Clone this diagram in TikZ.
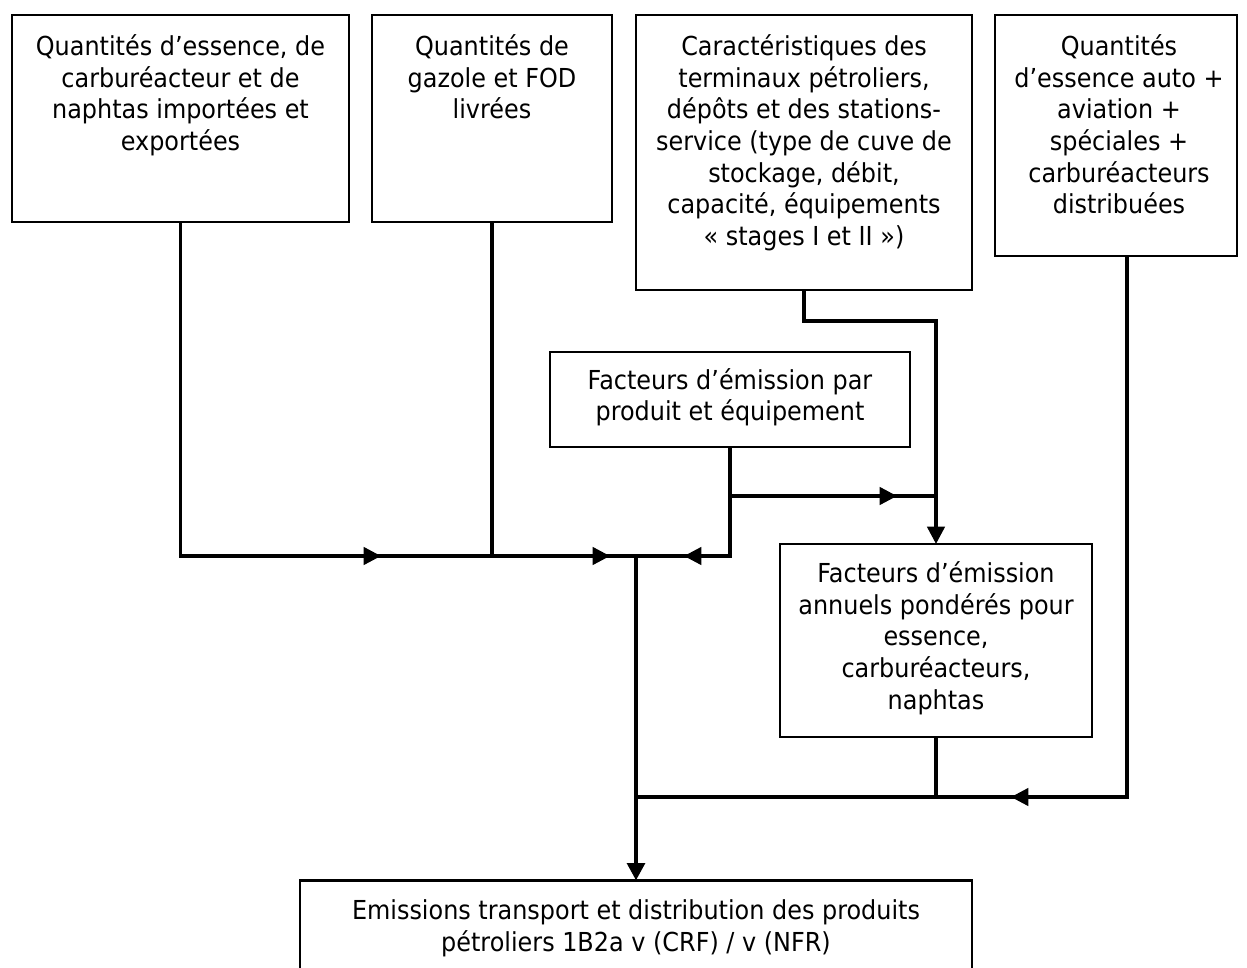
\documentclass[tikz,border=0pt]{standalone}
\usepackage{fontspec}
\setmainfont{DejaVu Sans}[FakeStretch=0.915]
\usetikzlibrary{arrows.meta}
% strut that fixes the height of the first line of each label
\newcommand\firstline{\rule{0pt}{16pt}}
\begin{document}
\begin{tikzpicture}[x=0.75pt,y=-0.75pt,
  box/.style={draw, line width=1.6pt, anchor=north west, inner sep=0pt, outer sep=0pt},
  boxsize/.style 2 args={minimum width=#1*0.75pt, minimum height=#2*0.75pt},
  txt/.style={align=center, inner sep=0pt, anchor=north,
              font=\fontsize{19.6pt}{23.7pt}\selectfont},
  conn/.style={line width=2.5pt},
  trunk/.style={line width=3.2pt},
  tip/.style={-{Triangle[length=13pt,width=13pt]}}]
\useasboundingbox (0,0) rectangle (1247,968);
\fill[white] (0,0) rectangle (1247,968);

% input boxes
\node[box, boxsize={337}{207}] (b1) at (12,15) {};
\node[box, boxsize={240}{207}] (b2) at (372,15) {};
\node[box, boxsize={336}{275}] (b3) at (636,15) {};
\node[box, boxsize={242}{241}] (b4) at (995,15) {};
% emission factors
\node[box, boxsize={360}{95}] (b5) at (550,352) {};
\node[box, boxsize={312}{193}] (b6) at (780,544) {};
% result
\node[box, boxsize={672}{95}] (b7) at (300,880.5) {};

% labels
\node[txt] (t1) at (180.5,34) {\firstline Quantités d’essence, de\\carburéacteur et de\\naphtas importées et\\exportées};
\node[txt] (t2) at (492,34) {\firstline Quantités de\\gazole et FOD\\livrées};
\node[txt] (t3) at (804,34) {\firstline Caractéristiques des\\terminaux pétroliers,\\dépôts et des stations-\\service (type de cuve de\\stockage, débit,\\capacité, équipements\\«~stages I et II~»)};
\node[txt] (t4) at (1119,34) {\firstline Quantités\\d’essence auto +\\aviation +\\spéciales +\\carburéacteurs\\distribuées};
\node[txt] (t5) at (730,367.5) {\firstline Facteurs d’émission par\\produit et équipement};
\node[txt] (t6) at (936,561) {\firstline Facteurs d’émission\\annuels pondérés pour\\essence,\\carburéacteurs,\\naphtas};
\node[txt] (t7) at (636,898) {\firstline Emissions transport et distribution des produits\\pétroliers 1B2a v (CRF) / v (NFR)};

% junctions and arrow positions
\coordinate (j)  at (636,556);
\coordinate (a1) at (381,556);
\coordinate (a2) at (610,556);
\coordinate (a3) at (684,556);
\coordinate (k5) at (730,496);
\coordinate (a4) at (897,496);
\coordinate (m5) at (936,496);
\coordinate (m3) at (936,321);
\coordinate (g)  at (636,797);
\coordinate (h6) at (936,797);
\coordinate (a5) at (1011,797);
\coordinate (k4) at (1127,797);

% quantities towards the main junction (full lines, then the arrowheads)
\draw[conn] (b1.south) |- (j);
\draw[conn, tip] (b1.south) |- (a1);
\draw[conn, tip] (a1) -- (a2);
\draw[conn] (b2.south) -- (b2.south |- j);
% emission factors by product
\draw[conn] (b5.south) |- (j);
\draw[conn, tip] (b5.south) |- (a3);
\draw[conn] (k5) -- (m5);
\draw[conn, tip] (k5) -- (a4);
% equipment characteristics into weighted factors
\draw[conn, tip] (b3.south) |- (m3) -- (b6.north);
% weighted factors and distributed quantities
\draw[conn] (b6.south) -- (h6);
\draw[conn] (b4.south -| k4) |- (h6);
\draw[conn, tip] (b4.south -| k4) |- (a5);
\draw[trunk] (h6) -- (g);
% main trunk down to the emissions
\draw[trunk, tip] (j) -- (b7.north);
\end{tikzpicture}
\end{document}
